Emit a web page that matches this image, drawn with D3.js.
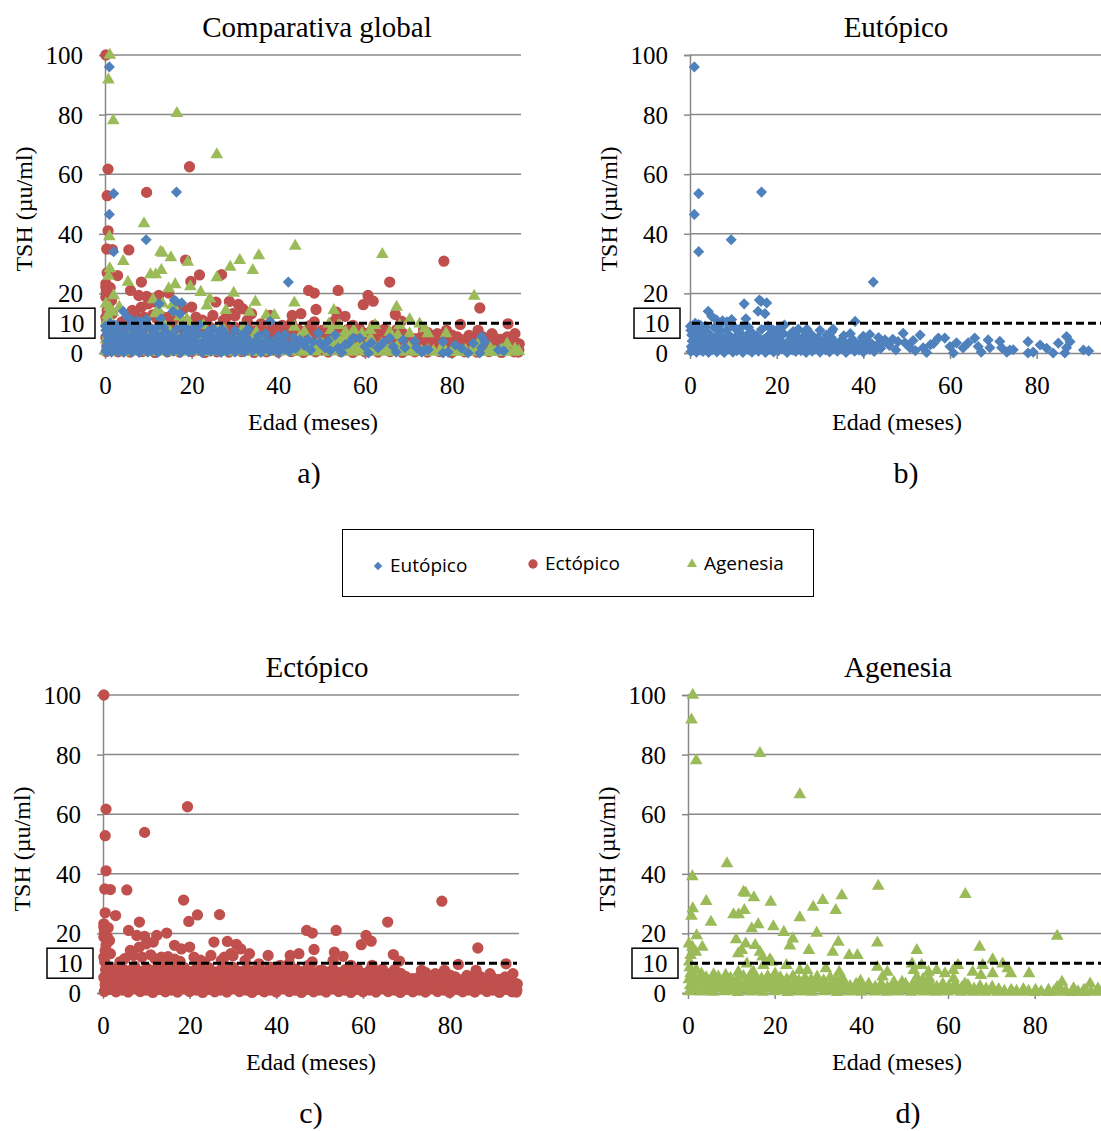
<!DOCTYPE html>
<html>
<head>
<meta charset="utf-8">
<script src="https://cdn.jsdelivr.net/npm/d3@7/dist/d3.min.js"></script>
<style>
  body { margin: 0; background: #fff; }
  svg { display: block; }
</style>
</head>
<body>
<div id="chart-area"></div>
<script>
// Edad (meses), TSH (µu/ml) pairs
const eutopico = [
  [1,96],[2,53.5],[1,46.5],[2,34],[9.5,38],[16.5,54],[42.3,23.8],
  [12.5,16.5],[15.7,14],[16.4,17.3],[17.7,16.8],[17.3,13.2],[16,17.8],[12.9,11.5],[4.2,14],[5,12.3],
  [6.1,11.1],[7.5,10.8],[8.5,10.5],[9.6,11.2],[1.2,10],[38.1,10.6],
  [2.5,9.2],[21.8,9.4],[16.5,7.9],[19.2,7.7],[23.8,7.2],[26.5,7.1],[32.7,7.1],[31.5,6],[13.5,8.6],
  [10.5,8.2],[3,8.5],[0.5,8],[11.5,6.8],[14.5,6.5],[7,7.5],[28,6.2],[35.5,5.8],[37,6.5],[40,5.6],
  [41.5,6.2],[43.5,5.2],[45,4.4],[46,2.5],[46.8,4.6],[47.5,1],[48,3.8],[49.2,6.6],[49.6,3.4],[50.8,1.7],
  [51.5,4.2],[52,0.8],[53.1,6],[53.8,1.7],[54.6,0.2],[55.5,2.8],[56.2,3.2],[57.3,5],[58.8,5],[60,2.2],
  [60.8,0],[61.5,3.4],[63,1.7],[64.2,3.4],[65.7,5],[66.5,2.2],[67.2,0.3],[68.8,4.4],[69.2,1.8],[71.5,3.9],
  [71.9,1.8],[73.1,0.3],[73.8,1],[74.6,1.1],[78,3.8],[78,0],[79.2,0.3],[80.8,2.7],[82.3,1.6],[83.8,0],
  [85,3.3],[86.5,0],[86.9,1.8],[86.9,5.5],[87.7,3.8],[90.8,1],[92,0.7],
  [0.2,0.5],[0.3,2.2],[0.5,4],[0.4,6],[0.8,1],[1,3],[1.2,5],[1.5,0.3],[1.6,7],[1.8,2.2],[2.2,4.5],
  [2.4,1],[2.6,6],[3,0.5],[3.1,3],[3.4,5.2],[3.8,1.8],[4,7],[4.3,0.2],[4.5,3.6],[4.8,5.8],[5.2,1.2],
  [5.4,2.8],[5.6,8.5],[5.9,4.4],[6.2,0.4],[6.4,2],[6.6,6.2],[7,3.5],[7.3,1],[7.5,5],[7.9,0.2],[8.1,2.6],
  [8.4,7.6],[8.6,4],[9,1.4],[9.3,5.6],[9.6,3],[9.9,0.3],[10.2,2],[10.5,4.6],[10.8,0.8],[11.2,3.2],
  [11.5,1.5],[11.8,5.4],[12.2,0.2],[12.5,2.5],[12.9,4],[13.3,6.2],[13.6,1],[14,3],[14.3,0.3],[14.7,4.8],
  [15,2],[15.4,5.8],[15.8,0.6],[16.2,3.4],[16.6,1.6],[17,4.5],[17.4,0.2],[17.8,2.8],[18.2,6],[18.5,1.2],
  [18.9,3.8],[19.3,0.4],[19.6,5],[20,2.2],[20.4,0.8],[20.8,4],[21.2,1.5],[21.6,6.5],[22,3],[22.4,0.2],
  [22.8,2],[23.2,4.6],[23.6,1],[24,3.4],[24.4,0.5],[24.8,5.5],[25.2,2.4],[25.6,0.8],[26,3.8],[26.4,1.6],
  [26.8,0.2],[27.2,4.2],[27.6,2.4],[28.2,0.6],[28.6,3.2],[29,1.4],[29.5,5],[30,0.3],[30.4,2.6],[30.8,4],
  [31.3,1],[31.8,3],[32.2,0.4],[32.6,5.2],[33,1.8],[33.5,3.6],[34,0.6],[34.5,2.4],[35,4.4],[35.5,1.2],
  [36,0.2],[36.5,3],[37,1.8],[37.5,4.6],[38,0.6],[38.5,2.6],[39,1],[39.5,3.8],[40,0.3],[40.5,2],[41,4],
  [41.5,1.2],[42.5,0.5],[43,2.4],[44,1.5],[44.5,3.4],[42,3],
  [2,9.5],[3.5,9],[6.8,9.2],[10,9],[12,8.8],[18,9],[20.5,8.4],[25,8],[27,8],[30,7.6],[33,8],
  [0.6,1.5],[1.4,3.8],[2,1.6],[2.8,2.6],[3.6,4],[5,3.6],[6,5],[6.9,2.2],[8,4.8],[9.2,2.6],[11,6],[12,1.8],
  [13,3.6],[14.4,1.8],[15.5,3.4],[17.2,2.4],[18.5,4.8],[20.2,6],[21.5,2.8],[23,6],[24.5,1.8],[26.2,5.4],
  [28,4.6],[29.8,3.6],[31.5,2.2],[33.8,2.6],[35.8,3.2],[37.8,3.6],[39.8,5.2],[0.1,9],[0.2,7.6]
];

const ectopico = [
  [0.2,100],[0.7,61.7],[0.5,52.8],[0.7,41],[0.4,34.9],[1.7,34.7],[5.5,34.6],[0.5,26.9],[2.9,26],
  [0.2,23.2],[0.2,22.1],[1.2,21.9],[0.2,18.8],[1.5,17.6],[0.5,14.3],[1.7,13.2],[5.9,21],[8.4,23.8],
  [7.8,19.3],[9.6,53.9],[9.6,19],[12.4,19.3],[14.7,20.1],[11.6,17.1],[10,16.5],[8.4,15.4],[6.3,14.3],
  [16.5,16],[18.6,31.2],[19.5,62.5],[19.8,24],[20,15.4],[18.1,14.8],[21.8,26.2],[26.9,26.3],[25.6,17.1],
  [28.7,17.3],[30.8,16.3],[31.8,14.8],[29.5,13.2],[33.8,13.2],[24.9,12.6],[38.1,12.6],[32.8,10.9],
  [27.3,10.9],[43.2,12.6],[45.2,13.2],[47,21],[48.3,20.1],[48.7,14.6],[48.3,10.4],[53.8,21],[53.4,13.7],
  [55.4,12.3],[53.1,10.9],[59.6,16.2],[60.7,19.3],[61.9,17.4],[65.7,23.8],[67,12.9],[68.4,10.7],
  [78.2,30.8],[86.5,15.1],[82,9.6],[93,9.8],[94.6,6.5],[95.4,3.1],[95.4,0.3],[89.3,6.5],[86.1,7.6],
  [84,5.9],[78.8,7.6],[76.7,6.5],[73.5,7.6],[71.4,4.8],[62.1,9.3],[57.2,9.3],[50.7,7.6],[47.4,9.3],
  [40.9,9.3],[38.5,8.7],[3.9,10.4],
  [12,11.5],[13.5,12],[15,12.2],[16.5,11.4],[21,12],[22.5,11],[14,10.2],[17.8,10.6],[23.5,10.2],[11,12.8],
  [9,12],[7,12.6],[5,11.5],[36,9.8],[43,10],[28,12],[30,12.5],
  [0.3,0.5],[0.5,2.8],[0.2,5.2],[0.6,7.8],[0.4,10.5],[0.2,12],[0.7,16],[0.3,20.5],[1,18.8],
  [1.5,1.2],[1.7,3.6],[1.4,6.2],[1.9,8.6],[3,0.4],[3.2,2.4],[2.8,4.8],[3.1,7],
  [4.4,1],[4.6,3.2],[4.2,5.6],[4.5,8.2],[5.8,0.3],[6,2.6],[5.6,5],[5.9,7.4],
  [7.2,1.4],[7.4,3.8],[7,6],[7.3,9],[8.6,0.5],[8.8,2.2],[8.4,4.6],[8.7,7.2],
  [10,1],[10.2,3.4],[9.8,5.8],[10.1,8.4],[11.5,0.2],[11.7,2.6],[11.3,5],[11.6,7.6],
  [13,1.2],[13.2,3.6],[12.8,6],[13.1,8.8],[14.4,0.4],[14.6,2.4],[14.2,4.8],[14.5,7.2],
  [15.8,1],[16,3.2],[15.6,5.6],[15.9,8],[17.2,0.3],[17.4,2.8],[17,5.2],[17.3,7.6],
  [18.6,1.4],[18.8,3.6],[18.4,6],[18.7,8.6],[20,0.5],[20.2,2.2],[19.8,4.6],[20.1,7.2],
  [21.5,1],[21.7,3.4],[21.3,5.8],[21.6,8.2],[23,0.2],[23.2,2.6],[22.8,5],[23.1,7.4],
  [24.4,1.2],[24.6,3.6],[24.2,6.2],[24.5,8.4],[25.8,0.4],[26,2.4],[25.6,4.8],[25.9,7],
  [27.2,1],[27.4,3.2],[27,5.6],[27.3,8],[28.6,0.3],[28.8,2.8],[28.4,5.2],[28.7,7.6],
  [30,1.4],[30.2,3.6],[29.8,6],[30.1,8.6],[31.5,0.5],[31.7,2.2],[31.3,4.6],[31.6,7.2],
  [33,1],[33.2,3.4],[32.8,5.8],[33.1,8],[34.4,0.2],[34.6,2.6],[34.2,5],[34.5,7.4],
  [35.8,1.2],[36,3.6],[35.6,6],[35.9,8.2],[37.2,0.4],[37.4,2.4],[37,4.8],[37.3,7],
  [38.6,1],[38.8,3.2],[38.4,5.6],[38.7,7.8],[40,0.3],[40.2,2.8],[39.8,5.2],[40.1,7.4],
  [41.5,1.4],[41.7,3.6],[41.3,6],[41.6,8.4],[43,0.5],[43.2,2.2],[42.8,4.6],[43.1,7],
  [44.4,1],[44.6,3.4],[44.2,5.8],[44.5,8],[45.8,0.2],[46,2.6],[45.6,5],[45.9,7.2],
  [47.2,1.2],[47.4,3.6],[47,5.8],[47.3,8.2],[48.6,0.4],[48.8,2.4],[48.4,4.8],[48.7,6.8],
  [50,1],[50.2,3.2],[49.8,5.4],[50.1,7.6],[51.5,0.3],[51.7,2.8],[51.3,5.2],[51.6,7],
  [53,1.4],[53.2,3.6],[52.8,5.8],[53.1,8],[54.4,0.5],[54.6,2.2],[54.2,4.6],[54.5,6.8],
  [55.8,1],[56,3.4],[55.6,5.6],[55.9,7.8],[57.2,0.2],[57.4,2.6],[57,4.8],[57.3,7],
  [58.6,1.2],[58.8,3.6],[58.4,5.8],[58.7,8.2],[60,0.4],[60.2,2.4],[59.8,4.6],[60.1,6.6],
  [61.5,1],[61.7,3.2],[61.3,5.4],[61.6,7.6],[63,0.3],[63.2,2.8],[62.8,5],[63.1,7.2],
  [64.4,1.4],[64.6,3.6],[64.2,5.8],[64.5,8],[65.8,0.5],[66,2.2],[65.6,4.4],[65.9,6.4],
  [67.2,1],[67.4,3.4],[67,5.6],[67.3,7.8],[68.6,0.2],[68.8,2.6],[68.4,4.8],[68.7,6.6],
  [70,1.2],[70.2,3.6],[69.8,5.6],[71.5,0.4],[71.7,2.4],[71.3,4.4],[73,1],[73.2,3.2],[72.8,5.2],
  [74.4,0.3],[74.6,2.8],[74.2,4.6],[74.5,6.8],[75.8,1.4],[76,3.6],[75.6,5.6],
  [77.2,0.5],[77.4,2.2],[77,4.2],[77.3,6.2],[78.6,1],[78.8,3.4],[78.4,5.4],
  [80,0.2],[80.2,2.6],[79.8,4.4],[80.1,6],[81.5,1.2],[81.7,3.6],[81.3,5.4],
  [83,0.4],[83.2,2.4],[82.8,4.4],[84.4,1],[84.6,3.2],[84.2,5.2],[85.8,0.3],[86,2.8],[85.6,4.6],
  [87.2,1.4],[87.4,3.6],[87,5.6],[88.6,0.5],[88.8,2.2],[88.4,4.2],[90,1],[90.2,3.4],[89.8,5.2],
  [91.5,0.2],[91.7,2.6],[91.3,4.6],[93,1.2],[93.2,3.6],[92.8,5.4],[94.4,0.4],[94.6,2.4],[94.2,4.4],
  [95.5,1],[95.6,3]
];

const agenesia = [
  [1.1,100],[0.8,91.7],[1.9,78],[16.6,80.4],[25.8,66.6],[9,43.4],[1,39.1],[12.8,33.9],[13.3,33.5],
  [15.2,32],[4.2,30.8],[19.1,30.5],[35.5,32.7],[43.9,35.9],[64,33.1],[31.1,31.1],[28.9,28.8],[34.1,27.7],
  [13,27.7],[10.5,26.3],[11.7,26.3],[1.1,28.3],[0.8,25.8],[25.8,25.3],[5.3,23.8],[16.2,23],[19.7,22.3],
  [14.7,21.6],[22.1,20.4],[29.7,20.1],[2,19.3],[85.2,19.1],[11.1,17.9],[24.2,18.2],[34.7,17.1],[43.7,16.8],
  [13.3,16.5],[15.5,16],[23.5,15.8],[67.3,15.4],[52.8,14.3],[0.2,16.5],[1,15.4],[3.3,15.4],[1.8,13.7],
  [0.6,12.6],[11.6,13.2],[12.4,14.3],[27.9,14.3],[33.4,13.7],[37.2,12.6],[39.1,12.6],[16.6,13.7],
  [17.2,12.1],[18.9,11.2],[70.3,11.2],[72.6,9.8],[73.8,8.2],[74.5,6.5],[78.7,6.5],[68,9.3],[67.6,5.9],
  [70.3,6.5],[65.7,7],[62.3,9.3],[61.2,7.6],[51.7,9.8],[52.1,7.6],[52.4,4.2],[53.9,9.3],[55.5,7],
  [57.4,7.6],[59.3,6.5],[43.7,8.7],[46,7],[44.9,5.4],[47.5,3.7],[49.4,3.7],[15.1,7],[17.4,9.3],[19.3,10.4],
  [31.8,8.2],[34.9,7],[27.5,7.6],[25.8,7.6],[22.7,9.3],[13.6,9.8],[63.9,3.1],[86.3,3.7],[85.2,2],
  [92.8,3.1],[89,1.5],[91.3,0.9],
  [0.3,0.5],[0.5,2.5],[0.2,4.5],[0.6,6.5],[0.4,8.5],[0.3,10.5],[1.5,1.2],[1.7,3.4],[1.4,5.6],[1.9,7.8],
  [3,0.4],[3.2,2.2],[2.8,4.2],[3.1,6.4],[4.4,1],[4.6,3.2],[4.2,5.2],[5.8,0.3],[6,2.4],[5.6,4.4],[5.9,6.2],
  [7.2,1.4],[7.4,3.6],[7,5.4],[8.6,0.5],[8.8,2.2],[8.4,4.4],[8.7,6],[10,1],[10.2,3],[9.8,5],
  [11.5,0.2],[11.7,2.4],[11.3,4.6],[11.6,7],[13,1.2],[13.2,3.4],[12.8,5.6],[14.4,0.4],[14.6,2.4],
  [14.2,4.4],[14.5,6.2],[15.8,1],[16,3.2],[15.6,5.2],[17.2,0.3],[17.4,2.6],[17,4.8],[18.6,1.4],[18.8,3.6],
  [18.4,5.6],[20,0.5],[20.2,2.2],[19.8,4.4],[20.1,6.4],[21.5,1],[21.7,3.2],[21.3,5.2],[23,0.2],[23.2,2.6],
  [22.8,4.6],[24.4,1.2],[24.6,3.4],[24.2,5.6],[25.8,0.4],[26,2.4],[25.6,4.2],[27.2,1],[27.4,3],[27,5],
  [28.6,0.3],[28.8,2.6],[28.4,4.4],[30,1.4],[30.2,3.6],[29.8,5.4],[31.5,0.5],[31.7,2.2],[31.3,4.2],
  [33,1],[33.2,3.2],[32.8,5.2],[34.4,0.2],[34.6,2.4],[34.2,4.6],[35.8,1.2],[36,3.4],[35.6,5],
  [37.2,0.4],[37.4,2.2],[38.6,1],[38.8,3],[40,0.3],[40.2,2.4],[39.8,4],[41.5,1.2],[41.7,3],
  [43,0.4],[43.2,2],[44.4,1],[44.6,3],[45.8,0.3],[46,1.8],[47.2,1],[47.4,2.6],[48.6,0.4],[48.8,2],
  [50,1.2],[50.2,3],[51.5,0.3],[51.7,2],[53,1],[53.2,3.4],[52.8,5.2],[54.4,0.4],[54.6,2.4],[54.2,4.6],
  [55.8,1],[56,3.2],[55.6,5],[57.2,0.3],[57.4,2],[58.6,1],[58.8,3],[60,0.4],[60.2,2.2],
  [61.5,1],[61.7,3],[61.3,4.8],[63,0.3],[63.2,1.8],[64.4,1],[64.6,2.6],[65.8,0.3],[66,1.4],
  [67.2,0.8],[67.4,2.2],[68.6,0.3],[68.8,1.4],[70,0.8],[70.2,2],[71.5,0.3],[71.7,1.2],
  [73,0.6],[74.4,0.3],[74.6,1],[75.8,0.6],[77.2,0.3],[77.4,1.2],[78.6,0.6],[80,0.2],[80.2,1],
  [81.5,0.5],[83,0.2],[83.2,1],[84.4,0.5],[85.8,0.3],[86,1.2],[87.2,0.6],[88.6,0.2],[88.8,1],
  [90,0.5],[91.5,0.2],[91.7,1],[93,0.5],[94.4,0.3],[94.6,1.4],[95.5,0.6]
];

const yTicks = [0, 20, 40, 60, 80, 100];
const xTicks = [0, 20, 40, 60, 80];
const limite = 10;
const legendNames = ["Eutópico", "Ectópico", "Agenesia"];

const colors = { eu: "#4f81bd", ec: "#c0504d", ag: "#9bbb59" };
const serif = "'Liberation Serif', 'Times New Roman', serif";

const svg = d3.select("#chart-area").append("svg")
    .attr("width", 1101)
    .attr("height", 1131)
    .style("background", "#fff");

const sym = {
    eu: d3.symbol().type(d3.symbolSquare).size(62),
    ec: d3.symbol().type(d3.symbolCircle).size(100),
    ag: d3.symbol().type(d3.symbolTriangle).size(70)
};
const symRot = { eu: 45, ec: 0, ag: 0 };

// label centres per panel: title, x-axis title, tag
const panels = [
    { left: 105, top: 55, bottom: 353, title: "Comparativa global", tag: "a)",
      tx: 317, lx: 313, gx: 309,
      series: [["ec", ectopico], ["ag", agenesia], ["eu", eutopico]] },
    { left: 690, top: 55, bottom: 353, title: "Eutópico", tag: "b)",
      tx: 896, lx: 897, gx: 906, series: [["eu", eutopico]] },
    { left: 103, top: 695, bottom: 993, title: "Ectópico", tag: "c)",
      tx: 317, lx: 311, gx: 311, series: [["ec", ectopico]] },
    { left: 688, top: 695, bottom: 993, title: "Agenesia", tag: "d)",
      tx: 898, lx: 897, gx: 908, series: [["ag", agenesia]] }
];

const drawPanel = function (p) {
    const plotW = 416;
    const x = d3.scaleLinear().domain([0, 96]).range([p.left, p.left + plotW]);
    const y = d3.scaleLinear().domain([0, 100]).range([p.bottom, p.top]);
    const g = svg.append("g");

    // grid
    g.selectAll(".grid").data(yTicks.slice(1)).enter().append("line")
        .attr("x1", p.left).attr("x2", p.left + plotW)
        .attr("y1", d => y(d)).attr("y2", d => y(d))
        .attr("stroke", "#888").attr("stroke-width", 1.5);

    // axes
    const yAxis = g.append("g").attr("transform", `translate(${p.left},0)`)
        .call(d3.axisLeft(y).tickValues(yTicks).tickSize(6).tickPadding(16));
    const xAxis = g.append("g").attr("transform", `translate(0,${p.bottom})`)
        .call(d3.axisBottom(x).tickValues(xTicks).tickSize(6).tickPadding(12));
    xAxis.select(".domain").attr("d", `M${p.left},0.5H${p.left + plotW}`);
    [xAxis, yAxis].forEach(a => {
        a.select(".domain").attr("stroke", "#888").attr("stroke-width", 1.5);
        a.selectAll(".tick line").attr("stroke", "#888").attr("stroke-width", 1.5);
        a.selectAll(".tick text").attr("fill", "#000")
            .style("font-family", serif).style("font-size", "25px");
    });
    xAxis.selectAll(".tick text").attr("dy", "0.9em");
    yAxis.selectAll(".tick text").attr("dy", "0.34em");

    // points
    p.series.forEach(([key, data]) => {
        g.append("g").selectAll("path").data(data).enter().append("path")
            .attr("d", sym[key])
            .attr("transform", d => `translate(${x(d[0])},${y(d[1])}) rotate(${symRot[key]})`)
            .attr("fill", colors[key]);
    });

    // threshold line
    g.append("line")
        .attr("x1", x(0) + 2).attr("x2", x(96) - 2)
        .attr("y1", y(limite)).attr("y2", y(limite))
        .attr("stroke", "#000").attr("stroke-width", 3)
        .attr("stroke-dasharray", "8,4");

    // boxed 10 label
    g.append("rect")
        .attr("x", p.left - 56).attr("y", y(limite) - 15)
        .attr("width", 46).attr("height", 30)
        .attr("fill", "#fff").attr("stroke", "#000").attr("stroke-width", 1.5);
    g.append("text")
        .attr("x", p.left - 33).attr("y", y(limite) + 9)
        .attr("text-anchor", "middle")
        .style("font-family", serif).style("font-size", "25px")
        .text(limite);

    g.append("text")
        .attr("x", p.tx).attr("y", p.top - 18)
        .attr("text-anchor", "middle")
        .style("font-family", serif).style("font-size", "29px")
        .text(p.title);

    g.append("text")
        .attr("transform", `translate(${p.left - 73},${(p.top + p.bottom) / 2 + 5}) rotate(-90)`)
        .attr("text-anchor", "middle")
        .style("font-family", serif).style("font-size", "24px")
        .text("TSH (µu/ml)");

    g.append("text")
        .attr("x", p.lx).attr("y", p.bottom + 77)
        .attr("text-anchor", "middle")
        .style("font-family", serif).style("font-size", "24px")
        .text("Edad (meses)");

    g.append("text")
        .attr("x", p.gx).attr("y", p.bottom + 130)
        .attr("text-anchor", "middle")
        .style("font-family", serif).style("font-size", "30px")
        .text(p.tag);
};

panels.forEach(drawPanel);

// legend
const legend = svg.append("g");
legend.append("rect")
    .attr("x", 342.5).attr("y", 529.5).attr("width", 471).attr("height", 67)
    .attr("fill", "#fff").attr("stroke", "#000").attr("stroke-width", 1);
const legendKeys = ["eu", "ec", "ag"];
const legendX = [378, 533, 692];
const legendSym = {
    eu: d3.symbol().type(d3.symbolSquare).size(36),
    ec: d3.symbol().type(d3.symbolCircle).size(68),
    ag: d3.symbol().type(d3.symbolTriangle).size(44)
};
legendKeys.forEach((k, i) => {
    legend.append("path")
        .attr("d", legendSym[k])
        .attr("transform", `translate(${legendX[i]},${i === 0 ? 566 : 564}) rotate(${symRot[k]})`)
        .attr("fill", colors[k]);
    legend.append("text")
        .attr("x", legendX[i] + 12).attr("y", i === 0 ? 572 : 570)
        .style("font-family", "'Open Sans', 'Noto Sans', sans-serif")
        .style("font-size", "19px")
        .text(legendNames[i]);
});
</script>
</body>
</html>
